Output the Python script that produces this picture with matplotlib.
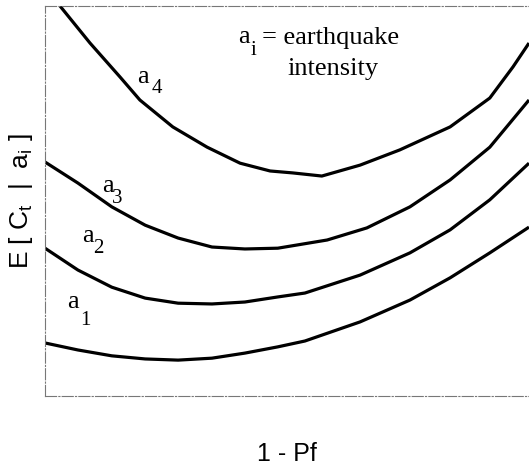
import matplotlib
matplotlib.use("Agg")
import matplotlib.pyplot as plt

plt.rcParams["mathtext.fontset"] = "custom"
plt.rcParams["mathtext.rm"] = "Liberation Sans"

SERIF = "Liberation Serif"
SANS = "Liberation Sans"

# Expected cost curves for each earthquake intensity level (x = 1 - Pf, normalised)
x_a4 = [0.031, 0.093, 0.155, 0.196, 0.264, 0.335, 0.403, 0.465, 0.512, 0.572,
        0.651, 0.733, 0.837, 0.919, 0.967, 1.0]
y_a4 = [1.0, 0.905, 0.818, 0.759, 0.690, 0.638, 0.597, 0.577, 0.572, 0.564,
        0.592, 0.631, 0.690, 0.764, 0.844, 0.905]

x_a3 = [0.0, 0.068, 0.138, 0.207, 0.275, 0.345, 0.413, 0.481, 0.583, 0.665,
        0.754, 0.837, 0.919, 1.0]
y_a3 = [0.600, 0.546, 0.485, 0.438, 0.405, 0.382, 0.377, 0.379, 0.400, 0.431,
        0.485, 0.554, 0.638, 0.759]

x_a2 = [0.0, 0.068, 0.138, 0.207, 0.275, 0.345, 0.413, 0.481, 0.537, 0.651,
        0.754, 0.837, 0.919, 1.0]
y_a2 = [0.379, 0.323, 0.279, 0.251, 0.238, 0.236, 0.241, 0.254, 0.264, 0.310,
        0.367, 0.426, 0.503, 0.597]

x_a1 = [0.0, 0.068, 0.138, 0.207, 0.275, 0.345, 0.413, 0.481, 0.537, 0.651,
        0.754, 0.837, 0.919, 1.0]
y_a1 = [0.136, 0.118, 0.103, 0.095, 0.092, 0.097, 0.110, 0.126, 0.141, 0.190,
        0.246, 0.303, 0.367, 0.433]

curves = [(x_a1, y_a1), (x_a2, y_a2), (x_a3, y_a3), (x_a4, y_a4)]
curve_subs = ["1", "2", "3", "4"]


def serif_label(ax, x, y, sub, dx, dy, size=19, subsize=15):
    """Write 'a' with a dropped subscript, offsets in pixels."""
    ax.text(x, y, "a", family=SERIF, fontsize=size, va="baseline", ha="left")
    ax.annotate(sub, (x, y), xytext=(dx * 0.72, dy * 0.72),
                textcoords="offset points", family=SERIF, fontsize=subsize,
                va="baseline", ha="left")


fig = plt.figure(figsize=(5.29, 4.69), dpi=100)
ax = fig.add_axes([45 / 529, 73 / 469, 484 / 529, 390 / 469])

for xs, ys in curves:
    ax.plot(xs, ys, color="black", linewidth=2.3, solid_joinstyle="round",
            solid_capstyle="butt")

ax.set_xlim(0, 1)
ax.set_ylim(0, 1)
ax.set_xticks([])
ax.set_yticks([])

for side in ("left", "bottom", "top"):
    ax.spines[side].set_linestyle((0, (10, 2, 1, 2)))
    ax.spines[side].set_color("#777777")
    ax.spines[side].set_linewidth(0.8)
ax.spines["right"].set_visible(False)

# curve labels
serif_label(ax, 0.045, 0.226, curve_subs[0], 13, -17)
serif_label(ax, 0.076, 0.395, curve_subs[1], 11, -11)
serif_label(ax, 0.118, 0.523, curve_subs[2], 10, -11)
serif_label(ax, 0.190, 0.803, curve_subs[3], 15, -10)

# legend note
serif_label(ax, 0.399, 0.905, "i", 12, -12)
ax.text(0.448, 0.903, "= earthquake", family=SERIF, fontsize=19, va="baseline")
ax.text(0.5, 0.823, "intensity", family=SERIF, fontsize=19, va="baseline")

ax.set_xlabel("1 - Pf", family=SANS, fontsize=18, labelpad=33)
ax.set_ylabel(r"E [ C$_\mathrm{t}$  |  a$_\mathrm{i}$ ]", family=SANS, fontsize=19,
              labelpad=7)

fig.savefig("out.png", dpi=100)
